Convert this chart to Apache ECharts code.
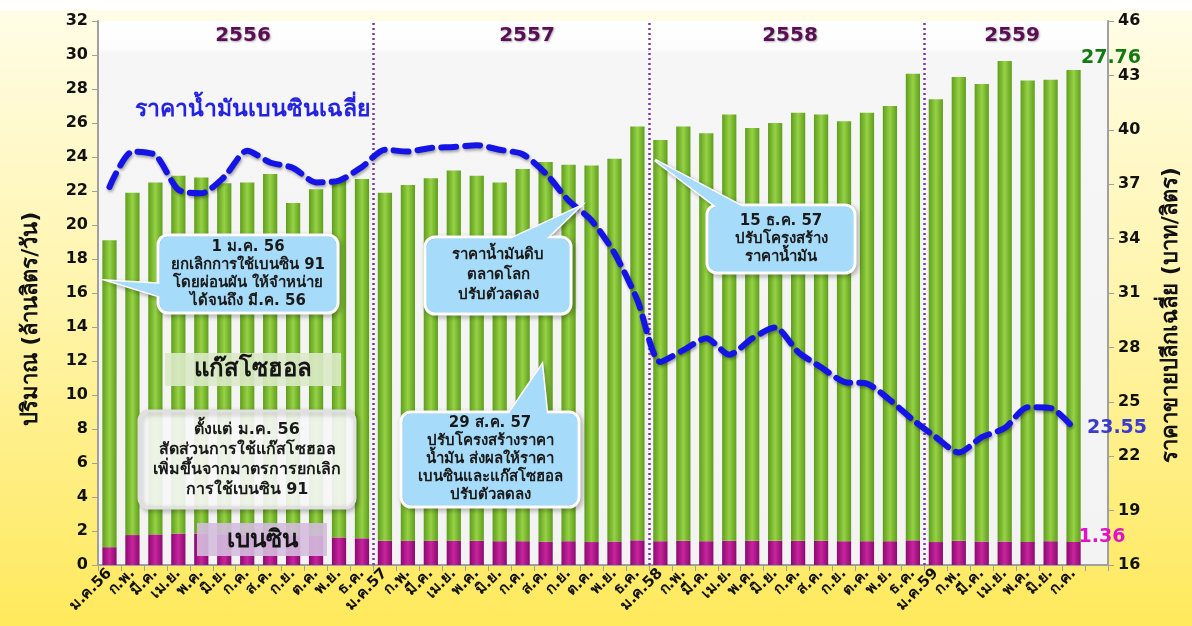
<!DOCTYPE html>
<html><head><meta charset="utf-8">
<script src="https://cdn.jsdelivr.net/npm/echarts@6/dist/echarts.min.js"></script>
<style>html,body{margin:0;padding:0;background:#fff}#c{width:1192px;height:626px}</style>
</head><body><div id="c"></div>
<script>
var months = ['ม.ค.56','ก.พ.','มี.ค.','เม.ย.','พ.ค.','มิ.ย.','ก.ค.','ส.ค.','ก.ย.','ต.ค.','พ.ย.','ธ.ค.',
  'ม.ค.57','ก.พ.','มี.ค.','เม.ย.','พ.ค.','มิ.ย.','ก.ค.','ส.ค.','ก.ย.','ต.ค.','พ.ย.','ธ.ค.',
  'ม.ค.58','ก.พ.','มี.ค.','เม.ย.','พ.ค.','มิ.ย.','ก.ค.','ส.ค.','ก.ย.','ต.ค.','พ.ย.','ธ.ค.',
  'ม.ค.59','ก.พ.','มี.ค.','เม.ย.','พ.ค.','มิ.ย.','ก.ค.',''];
var benzine = [1.05,1.76,1.8,1.85,1.85,1.8,1.8,1.78,1.75,1.72,1.62,1.57,
  1.42,1.43,1.43,1.43,1.42,1.4,1.4,1.37,1.4,1.35,1.38,1.45,
  1.4,1.42,1.4,1.42,1.42,1.42,1.42,1.42,1.4,1.4,1.4,1.45,
  1.35,1.42,1.38,1.38,1.36,1.4,1.36];
var gasohol = [18.05,20.14,20.7,21.05,20.95,20.65,20.7,21.22,19.55,20.38,21.08,21.13,
  20.48,20.92,21.32,21.77,21.48,21.1,21.9,22.33,22.15,22.15,22.52,24.35,
  23.6,24.38,24.0,25.08,24.28,24.58,25.18,25.08,24.7,25.2,25.6,27.45,
  26.05,27.28,26.92,28.27,27.14,27.15,27.76];
var price = [36.85,38.8,38.6,36.7,36.5,37.4,38.85,38.2,37.9,37.1,37.2,37.95,
  38.9,38.8,39.0,39.05,39.15,38.9,38.65,37.6,36.1,35.0,33.2,30.6,
  27.2,27.85,28.5,27.6,28.5,29.1,27.75,26.9,26.1,26.0,25.1,24.0,
  23.05,22.2,23.05,23.55,24.7,24.65,23.55];
var yearBreaks = [12,24,36];
var years = ['2556','2557','2558','2559'];
var leftTicks = {min:0,max:32,interval:2};
var rightTicks = {min:16,max:46,interval:3};

var FONT = "'DejaVu Sans', Tahoma, sans-serif";
var chart = echarts.init(document.getElementById('c'));

function hgrad(a,b){return new echarts.graphic.LinearGradient(0,0,1,0,[{offset:0,color:a},{offset:0.5,color:b},{offset:1,color:a}]);}

function callout(x,y,w,h,ptr,lines,fill,stroke,fs,lh){
  var els=[];
  if(ptr){els.push({type:'polygon',z:100,shape:{points:ptr},style:{fill:fill,stroke:stroke,lineWidth:3,shadowBlur:4,shadowColor:'rgba(0,0,0,0.25)',shadowOffsetX:2,shadowOffsetY:2}});}
  els.push({type:'rect',z:101,shape:{x:x,y:y,width:w,height:h,r:10},style:{fill:fill,stroke:stroke,lineWidth:3,shadowBlur:5,shadowColor:'rgba(0,0,0,0.25)',shadowOffsetX:2,shadowOffsetY:2}});
  if(ptr){els.push({type:'polygon',z:102,shape:{points:ptr},style:{fill:fill,stroke:null}});
    els.push({type:'rect',z:102,shape:{x:x+2,y:y+2,width:w-4,height:h-4,r:8},style:{fill:fill}});}
  els.push({type:'text',z:103,x:x+w/2,y:y+h/2,style:{text:lines.join('\n'),align:'center',verticalAlign:'middle',font:'bold '+fs+'px '+FONT,fill:'#1a1a1a',lineHeight:lh}});
  return els;
}
function txt(x,y,s,size,color,extra){
  var st={text:s,align:'center',verticalAlign:'middle',font:'bold '+size+'px '+FONT,fill:color};
  if(extra){for(var k in extra){st[k]=extra[k];}}
  return {type:'text',z:50,x:x,y:y,style:st};
}
var ysh={textShadowBlur:2,textShadowColor:'rgba(0,0,0,0.3)',textShadowOffsetX:1,textShadowOffsetY:1};

var graphics = [
  {type:'rect',z:-2,silent:true,shape:{x:0,y:0,width:1192,height:10},style:{fill:'#ffffff'}},
  {type:'rect',z:-1,silent:true,shape:{x:98,y:21,width:1010,height:544},style:{fill:new echarts.graphic.LinearGradient(0,0,0,1,[{offset:0,color:'#ffffff'},{offset:0.05,color:'#fdfdfd'},{offset:0.06,color:'#f6f6f6'},{offset:1,color:'#f3f3f3'}])}},
  {type:'text',z:50,x:31,y:319,rotation:Math.PI/2,style:{text:'ปริมาณ (ล้านลิตร/วัน)',align:'center',verticalAlign:'middle',font:'bold 22px '+FONT,fill:'#111'}},
  {type:'text',z:50,x:1171,y:315,rotation:Math.PI/2,style:{text:'ราคาขายปลีกเฉลี่ย (บาท/ลิตร)',align:'center',verticalAlign:'middle',font:'bold 22px '+FONT,fill:'#111'}},
  txt(243,36,years[0],20,'#5a0f55',ysh),
  txt(527,36,years[1],20,'#5a0f55',ysh),
  txt(790,36,years[2],20,'#5a0f55',ysh),
  txt(1012,36,years[3],20,'#5a0f55',ysh),
  txt(252,110,'ราคาน้ำมันเบนซินเฉลี่ย',23,'#2323e0'),
  txt(1111,58,'27.76',19,'#137a13'),
  txt(1117,428,'23.55',19,'#3b3bcc'),
  txt(1102,537,'1.36',19,'#e012c8'),
  {type:'rect',z:90,shape:{x:165,y:353,width:176,height:33},style:{fill:'rgba(218,234,200,0.9)'}},
  txt(253,370,'แก๊สโซฮอล',24,'#151515'),
  {type:'rect',z:90,shape:{x:197,y:523,width:130,height:33},style:{fill:'rgba(212,188,222,0.9)'}},
  txt(262,541,'เบนซิน',24,'#151515')
];
graphics[graphics.length-3].z=91; graphics[graphics.length-1].z=91;
graphics = graphics
 .concat(callout(158,235,180,78,[[110,281],[162,284],[178,302]],['1 ม.ค. 56','ยกเลิกการใช้เบนซิน 91','โดยผ่อนผัน ให้จำหน่าย','ได้จนถึง มี.ค. 56'],'#a6dcfa','#ffffff',15,18))
 .concat(callout(425,237,146,77,[[579,207],[508,240],[545,240]],['ราคาน้ำมันดิบ','ตลาดโลก','ปรับตัวลดลง'],'#a6dcfa','#ffffff',15,20))
 .concat(callout(707,205,148,68,[[655,160],[718,208],[745,208]],['15 ธ.ค. 57','ปรับโครงสร้าง','ราคาน้ำมัน'],'#a6dcfa','#ffffff',15,18))
 .concat(callout(401,412,178,95,[[542,365],[508,415],[547,415]],['29 ส.ค. 57','ปรับโครงสร้างราคา','น้ำมัน ส่งผลให้ราคา','เบนซินและแก๊สโซฮอล','ปรับตัวลดลง'],'#a6dcfa','#ffffff',15,18))
 .concat(callout(139,411,216,97,null,['ตั้งแต่ ม.ค. 56','สัดส่วนการใช้แก๊สโซฮอล','เพิ่มขึ้นจากมาตรการยกเลิก','การใช้เบนซิน 91'],'rgba(255,255,255,0.88)','#e0e0e0',16,20));

var axisLbl = {fontSize:16,fontWeight:'bold',fontFamily:FONT,color:'#111',margin:10};
var option = {
  animation:false,
  backgroundColor:new echarts.graphic.LinearGradient(0,0,0,1,[{offset:0,color:'#fffde8'},{offset:0.5,color:'#fff4a8'},{offset:1,color:'#ffe95c'}]),
  grid:{left:98,right:84,top:21,bottom:61},
  xAxis:[{type:'category',data:months,boundaryGap:true,
    axisLine:{lineStyle:{color:'#a0a0a0',width:2}},
    axisTick:{show:true,interval:0,length:6,lineStyle:{color:'#a0a0a0'}},
    axisLabel:{interval:0,rotate:45,margin:6,fontSize:15,fontWeight:'bold',fontFamily:FONT,color:'#111'}},
   {type:'value',min:0,max:months.length,show:false}],
  yAxis:[{type:'value',min:leftTicks.min,max:leftTicks.max,interval:leftTicks.interval,
    axisLine:{show:true,lineStyle:{color:'#a0a0a0',width:2}},axisTick:{show:true,length:6,lineStyle:{color:'#a0a0a0'}},
    splitLine:{show:false},axisLabel:axisLbl},
   {type:'value',min:rightTicks.min,max:rightTicks.max,interval:rightTicks.interval,position:'right',
    axisLine:{show:true,lineStyle:{color:'#a0a0a0',width:2}},axisTick:{show:true,length:6,lineStyle:{color:'#a0a0a0'}},
    splitLine:{show:false},axisLabel:axisLbl}],
  series:[
   {name:'เบนซิน',type:'bar',stack:'v',data:benzine,barWidth:'62%',
    itemStyle:{color:hgrad('#8a0a6e','#c8249e')}},
   {name:'แก๊สโซฮอล',type:'bar',stack:'v',data:gasohol,barWidth:'62%',
    itemStyle:{color:hgrad('#5f9e1c','#96d246')}},
   {name:'sep',type:'line',xAxisIndex:1,yAxisIndex:0,data:[],silent:true,
    markLine:{silent:true,symbol:['none','none'],label:{show:false},
      lineStyle:{color:'#7b3aa8',type:[2,3],width:2.5},
      data:yearBreaks.map(function(v){return {xAxis:v};})}},
   {name:'ราคาน้ำมันเบนซินเฉลี่ย',type:'line',yAxisIndex:1,data:price,smooth:0.25,symbol:'none',z:5,
    lineStyle:{color:'#1414e6',width:6,type:[15,9],cap:'round',shadowBlur:3,shadowColor:'rgba(0,0,0,0.35)',shadowOffsetX:1,shadowOffsetY:2}}
  ],
  graphic:graphics
};
chart.setOption(option);
</script></body></html>
